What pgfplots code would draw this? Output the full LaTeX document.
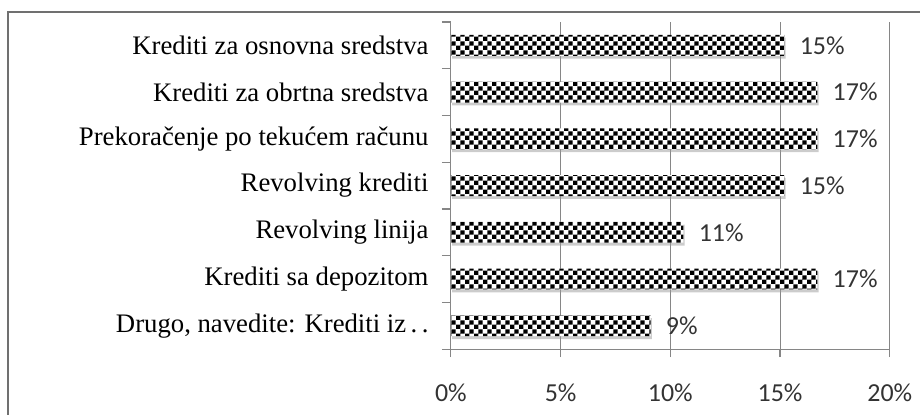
\documentclass[border=0pt]{standalone}
\usepackage{fontspec}
\setmainfont{Liberation Serif}
\newfontfamily\calfont{Carlito}
\usepackage{pgfplots}
\pgfplotsset{compat=1.18}
\usetikzlibrary{patterns.meta,shadows}
\pgfdeclarepattern{name=chk, type=uncolored, bottom left={\pgfpointorigin}, top right={\pgfpoint{4.4pt}{4.4pt}}, tile size={\pgfpoint{4.4pt}{4.4pt}}, code={\pgfpathrectangle{\pgfpointorigin}{\pgfpoint{2.2pt}{2.2pt}}\pgfpathrectangle{\pgfpoint{2.2pt}{2.2pt}}{\pgfpoint{2.2pt}{2.2pt}}\pgfusepath{fill}}}
\definecolor{axgray}{HTML}{868686}
\definecolor{framegray}{HTML}{707070}
\definecolor{txtgray}{HTML}{333333}
\begin{document}
\begin{tikzpicture}
\path (0,0) rectangle (460.5pt,207pt);
\draw[framegray, line width=1.3pt] (4pt,-1pt) -- (4pt,201pt) -- (461pt,201pt);
\begin{axis}[
  at={(226pt,32pt)}, anchor=south west,
  width=220pt, height=164pt, scale only axis,
  xmin=0, xmax=20, ymin=-0.5, ymax=6.5,
  axis x line*=bottom, axis y line*=left,
  axis line style={axgray, line width=0.6pt},
  xmajorgrids, grid style={axgray, line width=0.5pt},
  xtick={0,5,10,15,20},
  xticklabels={0\%,5\%,10\%,15\%,20\%},
  ytick={0,1,2,3,4,5,6},
  yticklabels={Drugo{,} navedite: Krediti iz\,.\,.,Krediti sa depozitom,Revolving linija,Revolving krediti,Prekoračenje po tekućem računu,Krediti za obrtna sredstva,Krediti za osnovna sredstva},
  minor ytick={-0.5,0.5,...,6.5},
  tick align=outside,
  major tick length=4pt, minor tick length=4.5pt,
  major y tick style={draw=none},
  minor y tick style={axgray, line width=0.6pt},
  major x tick style={axgray, line width=0.6pt},
  xticklabel style={font=\calfont\fontsize{13}{15}\selectfont, text=txtgray, inner sep=0pt, anchor=north, yshift=-13pt},
  yticklabel style={font=\fontsize{13.4}{15}\selectfont, inner sep=0pt, anchor=east, xshift=-7pt},
  xbar, bar width=10.5pt,
  point meta=explicit symbolic,
  nodes near coords,
  nodes near coords style={font=\calfont\fontsize{13}{15}\selectfont, text=txtgray, anchor=west, inner sep=0pt, xshift=7.5pt},
  clip=false,
]
\addplot[draw=none, fill=white, postaction={pattern=chk, pattern color=black},
  drop shadow={shadow xshift=0.6pt, shadow yshift=-1.4pt, fill=black!40}]
  coordinates {(9.1,0) [9\%] (16.7,1) [17\%] (10.6,2) [11\%] (15.2,3) [15\%] (16.7,4) [17\%] (16.7,5) [17\%] (15.2,6) [15\%]};
\end{axis}
\end{tikzpicture}
\end{document}
